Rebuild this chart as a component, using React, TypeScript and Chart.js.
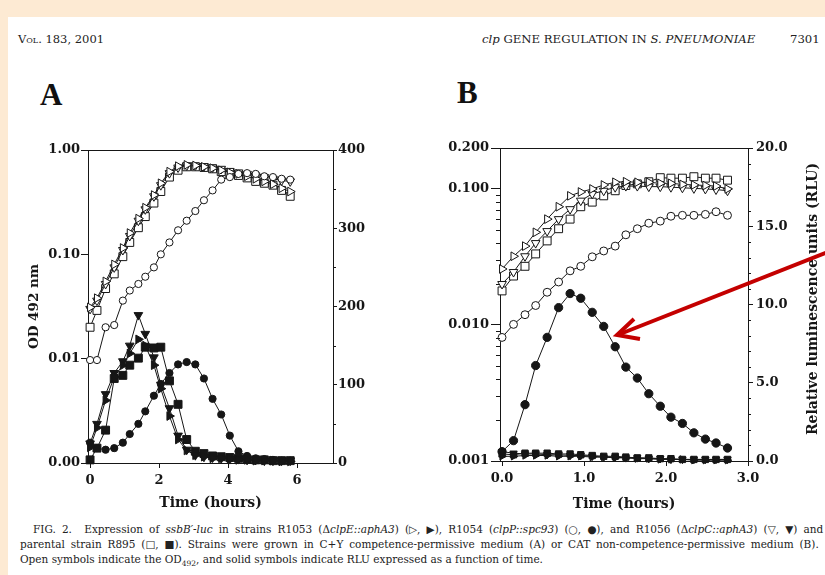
import React, { useEffect, useRef } from 'react';
import { Chart, registerables } from 'chart.js';

Chart.register(...registerables);

// ---------------- Panel A (C+Y medium) ----------------
const timesA = [0, 0.2, 0.45, 0.7, 0.95, 1.15, 1.4, 1.6, 1.85, 2.05, 2.3, 2.55, 2.8, 3.05, 3.3, 3.55, 3.8, 4.05, 4.3, 4.55, 4.8, 5.05, 5.3, 5.55, 5.8];
// OD 492 (open symbols, left log axis)
const odA_R1053 = [0.031, 0.038, 0.055, 0.08, 0.115, 0.16, 0.22, 0.28, 0.37, 0.48, 0.62, 0.7, 0.72, 0.71, 0.69, 0.67, 0.64, 0.61, 0.59, 0.56, 0.53, 0.5, 0.47, 0.43, 0.4];
const odA_R1054 = [0.0097, 0.0097, 0.02, 0.021, 0.036, 0.045, 0.052, 0.061, 0.075, 0.1, 0.13, 0.17, 0.21, 0.26, 0.33, 0.41, 0.52, 0.55, 0.59, 0.6, 0.59, 0.56, 0.55, 0.53, 0.52];
const odA_R1056 = [0.03, 0.036, 0.052, 0.075, 0.11, 0.15, 0.21, 0.27, 0.36, 0.46, 0.6, 0.68, 0.71, 0.71, 0.7, 0.68, 0.66, 0.63, 0.61, 0.59, 0.57, 0.55, 0.53, 0.51, 0.5];
const odA_R895 = [0.02, 0.029, 0.047, 0.065, 0.095, 0.13, 0.18, 0.23, 0.31, 0.4, 0.55, 0.64, 0.69, 0.69, 0.68, 0.66, 0.62, 0.59, 0.57, 0.54, 0.5, 0.48, 0.46, 0.41, 0.36];
// RLU (solid symbols, right axis)
const rluA_R1053 = [20, 45, 80, 110, 125, 140, 158, 150, 125, 95, 60, 30, 16, 10, 8, 6, 6, 5, 4, 4, 3, 3, 3, 2, 2];
const rluA_R1054 = [26, 19, 17, 19, 26, 37, 50, 66, 86, 101, 115, 126, 129, 126, 108, 82, 62, 35, 15, 9, 6, 5, 4, 3, 3];
const rluA_R1056 = [25, 50, 88, 115, 130, 150, 189, 165, 135, 100, 70, 35, 17, 10, 8, 7, 6, 5, 5, 4, 4, 3, 3, 3, 3];
const rluA_R895 = [4, 19, 42, 108, 112, 125, 134, 148, 147, 148, 105, 75, 30, 15, 12, 9, 8, 7, 6, 5, 4, 4, 3, 3, 3];

const xTicksA = [0, 2, 4, 6];
const xLabelsA = ['0', '2', '4', '6'];
const odTicksA = [0.001, 0.01, 0.1, 1];
const odLabelsA = ['0.00', '0.01', '0.10', '1.00'];
const rluTicksA = [0, 100, 200, 300, 400];
const rluLabelsA = ['0', '100', '200', '300', '400'];
const rluMinorA = [50, 150, 250, 350];

// ---------------- Panel B (CAT medium) ----------------
const timesB = [0, 0.14, 0.28, 0.41, 0.55, 0.69, 0.83, 0.96, 1.1, 1.24, 1.38, 1.51, 1.65, 1.79, 1.93, 2.06, 2.2, 2.34, 2.48, 2.61, 2.75];
const odB_R1053 = [0.0258, 0.032, 0.038, 0.048, 0.06, 0.074, 0.089, 0.095, 0.1, 0.107, 0.112, 0.113, 0.112, 0.112, 0.11, 0.11, 0.108, 0.107, 0.106, 0.105, 0.1];
const odB_R1054 = [0.0081, 0.0101, 0.0119, 0.0139, 0.0174, 0.0207, 0.025, 0.027, 0.0317, 0.035, 0.038, 0.046, 0.051, 0.056, 0.058, 0.063, 0.064, 0.064, 0.065, 0.068, 0.064];
const odB_R1056 = [0.02, 0.0245, 0.032, 0.04, 0.049, 0.06, 0.071, 0.082, 0.092, 0.097, 0.103, 0.105, 0.105, 0.104, 0.104, 0.103, 0.102, 0.101, 0.1, 0.099, 0.097];
const odB_R895 = [0.0178, 0.0229, 0.027, 0.0333, 0.0415, 0.051, 0.06, 0.074, 0.08, 0.089, 0.097, 0.106, 0.109, 0.113, 0.121, 0.12, 0.12, 0.123, 0.12, 0.12, 0.116];
const rluB_R1053 = [0.3, 0.3, 0.35, 0.35, 0.35, 0.3, 0.3, 0.3, 0.25, 0.25, 0.2, 0.2, 0.15, 0.15, 0.1, 0.1, 0.1, 0.05, 0.05, 0.05, 0.05];
const rluB_R1054 = [0.6, 1.3, 3.6, 6.1, 7.9, 9.8, 10.7, 10.4, 9.5, 8.6, 7.3, 6.0, 5.3, 4.3, 3.5, 2.8, 2.4, 1.8, 1.4, 1.15, 0.83];
const rluB_R1056 = [0.6, 0.5, 0.45, 0.45, 0.4, 0.4, 0.35, 0.35, 0.3, 0.25, 0.25, 0.2, 0.2, 0.15, 0.15, 0.1, 0.1, 0.1, 0.1, 0.1, 0.1];
const rluB_R895 = [0.45, 0.4, 0.5, 0.5, 0.5, 0.45, 0.45, 0.4, 0.35, 0.3, 0.3, 0.25, 0.2, 0.2, 0.15, 0.15, 0.1, 0.1, 0.1, 0.1, 0.1];

const xTicksB = [0, 1, 2, 3];
const xLabelsB = ['0.0', '1.0', '2.0', '3.0'];
const odTicksB = [0.001, 0.01, 0.1, 0.2];
const odLabelsB = ['0.001', '0.010', '0.100', '0.200'];
const odMinorB = [0.002, 0.003, 0.004, 0.005, 0.006, 0.007, 0.008, 0.009, 0.02, 0.03, 0.04, 0.05, 0.06, 0.07, 0.08, 0.09];
const rluTicksB = [0, 5, 10, 15, 20];
const rluLabelsB = ['0.0', '5.0', '10.0', '15.0', '20.0'];
const rluMinorB = [1, 2, 3, 4, 6, 7, 8, 9, 11, 12, 13, 14, 16, 17, 18, 19];

// ---------------- styling ----------------
const FONT = "'DejaVu Serif', serif";
const INK = '#161616';

type Shape = { style: string; rot: number; r: number };
const SHAPES: Record<string, Shape> = {
  R1053: { style: 'triangle', rot: 90, r: 5 },
  R1054: { style: 'circle', rot: 0, r: 3.6 },
  R1056: { style: 'triangle', rot: 180, r: 5 },
  R895: { style: 'rect', rot: 0, r: 5.6 },
};

function ds(label: string, strain: string, times: number[], values: number[], axis: string, filled: boolean, scaleR = 1) {
  const s = SHAPES[strain];
  return {
    label,
    data: values.map((v, i) => ({ x: times[i], y: v })),
    xAxisID: 'x',
    yAxisID: axis,
    borderColor: INK,
    borderWidth: 1,
    backgroundColor: filled ? INK : '#ffffff',
    pointStyle: s.style,
    pointRotation: s.rot,
    pointRadius: s.r * scaleR,
    pointBorderColor: INK,
    pointBorderWidth: 1,
    pointBackgroundColor: filled ? INK : '#ffffff',
    tension: 0,
    fill: false,
    clip: false,
  };
}

const frameAndMinor = {
  id: 'frameAndMinor',
  afterDraw(chart: any, _a: any, opts: any) {
    const ctx = chart.ctx;
    const area = chart.chartArea;
    ctx.save();
    ctx.strokeStyle = INK;
    ctx.lineWidth = 1;
    ctx.beginPath();
    ctx.moveTo(area.left, Math.round(area.top) + 0.5);
    ctx.lineTo(area.right, Math.round(area.top) + 0.5);
    ctx.stroke();
    for (const m of (opts && opts.minor) || []) {
      const scale = chart.scales[m.axis];
      for (const v of m.values) {
        const p = Math.round(scale.getPixelForValue(v)) + 0.5;
        ctx.beginPath();
        if (scale.position === 'left') {
          ctx.moveTo(area.left, p);
          ctx.lineTo(area.left - m.len, p);
        } else if (scale.position === 'right') {
          ctx.moveTo(area.right, p);
          ctx.lineTo(area.right + m.len, p);
        } else {
          ctx.moveTo(p, area.bottom);
          ctx.lineTo(p, area.bottom + m.len);
        }
        ctx.stroke();
      }
    }
    ctx.restore();
  },
};

type Axis = {
  min: number; max: number; ticks: number[]; labels: string[];
  size: number; tickLen: number; pad: number; title?: string; titlePad?: number; titleSize?: number;
};

function axisOpts(type: string, position: string, a: Axis, horizontal: boolean) {
  const o: any = {
    type,
    position,
    min: a.min,
    max: a.max,
    afterBuildTicks: (s: any) => { s.ticks = a.ticks.map((v) => ({ value: v })); },
    afterFit: (s: any) => { if (horizontal) s.height = a.size; else s.width = a.size; },
    ticks: {
      autoSkip: false,
      maxRotation: 0,
      minRotation: 0,
      padding: a.pad,
      color: INK,
      font: { family: FONT, size: 13, weight: 'bold' },
      callback: (v: number) => { const i = a.ticks.findIndex((t) => Math.abs(t - v) < 1e-9); return i >= 0 ? a.labels[i] : ''; },
    },
    grid: { display: true, drawOnChartArea: false, drawTicks: true, tickLength: a.tickLen, color: INK, lineWidth: 1 },
    border: { display: true, color: INK, width: 1 },
    title: a.title
      ? { display: true, text: a.title, color: INK, font: { family: FONT, size: a.titleSize || 14, weight: 'bold' }, padding: { top: a.titlePad || 0, bottom: a.titlePad || 0 } }
      : { display: false },
  };
  return o;
}

function makeConfig(p: any) {
  return {
    type: 'line',
    data: { datasets: p.datasets },
    options: {
      responsive: false,
      animation: false,
      devicePixelRatio: 1,
      events: [],
      layout: { padding: { top: p.top, left: 0, right: 0, bottom: 0 } },
      plugins: { legend: { display: false }, tooltip: { enabled: false }, frameAndMinor: { minor: p.minor } },
      scales: {
        x: axisOpts('linear', 'bottom', p.x, true),
        yL: axisOpts('logarithmic', 'left', p.yL, false),
        yR: axisOpts('linear', 'right', p.yR, false),
      },
    },
    plugins: [frameAndMinor],
  };
}

const panelA = () => makeConfig({
  top: 30,
  datasets: [
    ds('R1053 RLU', 'R1053', timesA, rluA_R1053, 'yR', true),
    ds('R1054 RLU', 'R1054', timesA, rluA_R1054, 'yR', true),
    ds('R1056 RLU', 'R1056', timesA, rluA_R1056, 'yR', true),
    ds('R895 RLU', 'R895', timesA, rluA_R895, 'yR', true),
    ds('R1054 OD', 'R1054', timesA, odA_R1054, 'yL', false),
    ds('R1053 OD', 'R1053', timesA, odA_R1053, 'yL', false),
    ds('R1056 OD', 'R1056', timesA, odA_R1056, 'yL', false),
    ds('R895 OD', 'R895', timesA, odA_R895, 'yL', false),
  ],
  x: { min: -0.06, max: 7.04, ticks: xTicksA, labels: xLabelsA, size: 57, tickLen: 5, pad: 5, title: 'Time (hours)', titlePad: 8, titleSize: 14 },
  yL: { min: 0.001, max: 1, ticks: odTicksA, labels: odLabelsA, size: 88, tickLen: 7, pad: 1, title: 'OD 492 nm', titlePad: 26, titleSize: 13.5 },
  yR: { min: 0, max: 400, ticks: rluTicksA, labels: rluLabelsA, size: 67, tickLen: 4, pad: 1 },
  minor: [{ axis: 'yR', values: rluMinorA, len: 3 }],
});

const panelB = () => makeConfig({
  top: 28,
  datasets: [
    ds('R1053 RLU', 'R1053', timesB, rluB_R1053, 'yR', true, 0.85),
    ds('R1056 RLU', 'R1056', timesB, rluB_R1056, 'yR', true, 0.85),
    ds('R895 RLU', 'R895', timesB, rluB_R895, 'yR', true, 0.8),
    ds('R1054 RLU', 'R1054', timesB, rluB_R1054, 'yR', true, 1.15),
    ds('R1054 OD', 'R1054', timesB, odB_R1054, 'yL', false, 1.1),
    ds('R1053 OD', 'R1053', timesB, odB_R1053, 'yL', false),
    ds('R1056 OD', 'R1056', timesB, odB_R1056, 'yL', false),
    ds('R895 OD', 'R895', timesB, odB_R895, 'yL', false),
  ],
  x: { min: -0.025, max: 3.0, ticks: xTicksB, labels: xLabelsB, size: 59, tickLen: 5, pad: 5, title: 'Time (hours)', titlePad: 7, titleSize: 14 },
  yL: { min: 0.001, max: 0.2, ticks: odTicksB, labels: odLabelsB, size: 85, tickLen: 9, pad: 2 },
  yR: { min: 0, max: 20, ticks: rluTicksB, labels: rluLabelsB, size: 77, tickLen: 5, pad: 3 },
  minor: [
    { axis: 'yL', values: odMinorB, len: 4 },
    { axis: 'yR', values: rluMinorB, len: 3 },
  ],
});

function ChartCanvas({ make, left, top, width, height }: any) {
  const ref = useRef<HTMLCanvasElement | null>(null);
  useEffect(() => {
    if (!ref.current) return;
    const chart = new Chart(ref.current, make() as any);
    return () => chart.destroy();
  }, []);
  return (
    <canvas ref={ref} width={width} height={height}
      style={{ position: 'absolute', left, top, width, height }} />
  );
}

const serif = "'DejaVu Serif', serif";
const capStyle: any = { position: 'absolute', fontFamily: serif, fontSize: 10.5, color: '#222', whiteSpace: 'nowrap' };

export default function App() {
  return (
    <div style={{ position: 'fixed', left: 0, top: 0, width: 825, height: 575, background: '#fdead3', overflow: 'hidden' }}>
      <div style={{ position: 'absolute', left: 8, top: 17, right: 0, bottom: 0, background: '#ffffff' }} />
      {/* running head */}
      <div style={{ position: 'absolute', left: 18, top: 32, fontFamily: serif, fontSize: 11.5, color: '#222', whiteSpace: 'nowrap', fontVariant: 'small-caps' }}>
        Vol. 183, 2001
      </div>
      <div style={{ position: 'absolute', left: 482, top: 32, fontFamily: serif, fontSize: 11.7, color: '#222', whiteSpace: 'nowrap' }}>
        <i>clp</i> GENE REGULATION IN <i>S. PNEUMONIAE</i>
      </div>
      <div style={{ position: 'absolute', left: 790, top: 32, fontFamily: serif, fontSize: 11.7, color: '#222', whiteSpace: 'nowrap' }}>
        7301
      </div>
      {/* panel letters */}
      <div style={{ position: 'absolute', left: 40, top: 77, fontFamily: "'Liberation Serif', serif", fontWeight: 'bold', fontSize: 31, color: '#111' }}>A</div>
      <div style={{ position: 'absolute', left: 457, top: 75, fontFamily: "'Liberation Serif', serif", fontWeight: 'bold', fontSize: 31, color: '#111' }}>B</div>

      <ChartCanvas make={panelA} left={0} top={120} width={400} height={400} />
      <ChartCanvas make={panelB} left={415} top={120} width={410} height={400} />

      {/* right axis title of panel B (reads bottom to top) */}
      <div style={{ position: 'absolute', left: 812, top: 299, transform: 'translate(-50%, -50%) rotate(-90deg)', fontFamily: serif, fontSize: 14, fontWeight: 'bold', color: INK, whiteSpace: 'nowrap' }}>
        Relative luminescence units (RLU)
      </div>

      {/* caption */}
      <div style={{ ...capStyle, left: 33, top: 523, wordSpacing: 2.8 }}>
        FIG. 2.&nbsp; Expression of <i>ssbB′-luc</i> in strains R1053 (Δ<i>clpE::aphA3</i>) (▷, ▶), R1054 (<i>clpP::spc93</i>) (○, ●), and R1056 (Δ<i>clpC::aphA3</i>) (▽, ▼) and
      </div>
      <div style={{ ...capStyle, left: 20, top: 538, wordSpacing: 2.5 }}>
        parental strain R895 (□, ■). Strains were grown in C+Y competence-permissive medium (A) or CAT non-competence-permissive medium (B).
      </div>
      <div style={{ ...capStyle, left: 20, top: 553 }}>
        Open symbols indicate the OD<sub style={{ fontSize: 7.5 }}>492</sub>, and solid symbols indicate RLU expressed as a function of time.
      </div>

      {/* red annotation arrow */}
      <svg width={825} height={575} style={{ position: 'absolute', left: 0, top: 0, pointerEvents: 'none' }}>
        <line x1={828} y1={252} x2={620} y2={334} stroke="#c40000" strokeWidth={4} />
        <polyline points="634,319 617,335 640,339" fill="none" stroke="#c40000" strokeWidth={4} strokeLinejoin="miter" />
      </svg>
    </div>
  );
}
